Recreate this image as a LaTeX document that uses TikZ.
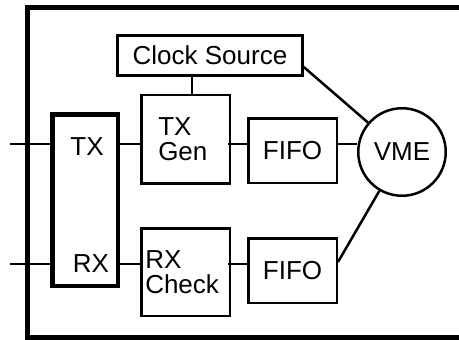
\documentclass[tikz,border=0pt]{standalone}
\usepackage{fontspec}
\setmainfont{Liberation Sans}
\usepackage{tikz}
\usetikzlibrary{positioning}

\begin{document}
\begin{tikzpicture}[
    x=1pt, y=-1pt,
    font=\fontsize{26}{25}\selectfont,
    line width=2.5pt,
    blk/.style={draw, line width=2.5pt, minimum width=88.5pt, inner sep=0pt},
    fifo/.style={blk, minimum height=64.5pt},
    gen/.style={blk, minimum height=88.5pt, align=left, text width=54.5pt, inner xsep=17pt},
    chk/.style={blk, minimum height=87.5pt, align=left, text width=80.5pt, inner xsep=4pt},
    lbl/.style={inner sep=0pt}
]
    \useasboundingbox (0,0) rectangle (459,340);
    \clip (0,0) rectangle (459,340);

    % Board outline, runs off the right and bottom edges
    \draw[line width=5pt] (27.5,7.5) rectangle (480,337.5);

    % Transceiver block with its two ports
    \node[draw, line width=4.5pt, minimum width=65.5pt, minimum height=171.5pt] (io) at (85,200) {};
    \node[lbl] (tx) at (87,147) {TX};
    \node[lbl] (rx) at (91,264) {RX};
    \coordinate (txin) at (10,144);
    \coordinate (rxin) at (10,264);

    % Clock, generator, checker and buffers
    \node[blk, minimum width=185pt, minimum height=40pt] (clock) at (210,55.5) {Clock Source};
    \node[gen] (txgen) at (185.5,139) {TX\\Gen};
    \node[chk] (rxchk) at (185.5,272) {RX\\Check};
    \node[fifo] (fifo1) at (292.5,150.5) {FIFO};
    \node[fifo] (fifo2) at (292.5,270.5) {FIFO};

    % Bus interface
    \node[draw, circle, line width=2.5pt, minimum size=87.5pt, inner sep=0pt] (vme) at (402,152) {VME};

    % Transmit path
    \draw (txin) -- ([xshift=5pt]txin -| io.west);
    \draw (io.east |- txin) -- ([xshift=3pt]txgen.west |- txin);
    \draw ([xshift=-3pt]txgen.east |- txin) -- (fifo1.west |- txin);
    \draw (fifo1.east |- txin) -- (vme.west |- txin);

    % Receive path
    \draw (rxin) -- ([xshift=5pt]rxin -| io.west);
    \draw (io.east |- rxin) -- ([xshift=3pt]rxchk.west |- rxin);
    \draw ([xshift=-3pt]rxchk.east |- rxin) -- (fifo2.west |- rxin);
    \draw ([yshift=8.5pt]fifo2.east) -- (vme);

    % Clock distribution
    \draw ([xshift=-18pt]clock.south) -- ([xshift=-18pt]clock.south |- txgen.north);
    \draw ([yshift=-11.5pt]clock.east) -- (vme);
\end{tikzpicture}
\end{document}
